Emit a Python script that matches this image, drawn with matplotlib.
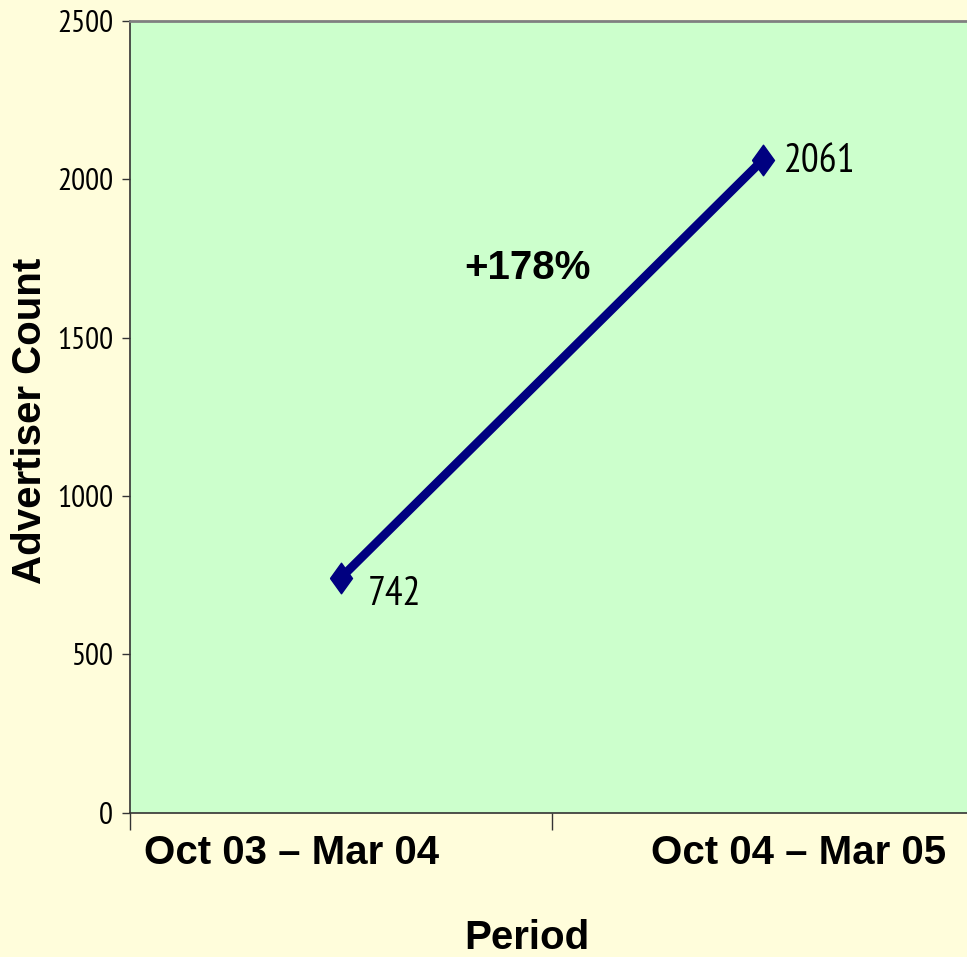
import matplotlib
matplotlib.use("Agg")
import numpy as np
from matplotlib import pyplot as plt

# advertiser counts per period
periods = ["Oct 03 \u2013 Mar 04", "Oct 04 \u2013 Mar 05"]
counts = [742, 2061]
growth_label = "+178%"

y_ticks = [0, 500, 1000, 1500, 2000, 2500]

narrow_font = ["PT Sans Narrow", "Roboto Condensed", "DejaVu Sans"]
bold_font = ["Liberation Sans", "DejaVu Sans"]

plt.rcParams["font.family"] = narrow_font

bg = "#FFFDDB"
plot_bg = "#CCFFCC"
navy = "#000080"

fig = plt.figure(figsize=(9.67, 9.57), dpi=100, facecolor=bg)
ax = fig.add_axes([0.1344, 0.1505, 0.8728, 0.828], facecolor=plot_bg)

x = np.arange(len(counts))
diamond = [(-0.72, 0), (0, 1), (0.72, 0), (0, -1), (-0.72, 0)]
ax.plot(x, counts, color=navy, linewidth=6.3, marker=diamond,
        markersize=22, markerfacecolor=navy, markeredgecolor=navy,
        solid_capstyle="butt", zorder=3)

# value labels next to the points
offsets = [(19, -12), (15, -1)]
for xi, val, off in zip(x, counts, offsets):
    ax.annotate(str(val), (xi, val), xytext=off, textcoords="offset points",
                ha="left", va="center", fontsize=28.5, color="black")

ax.text(0.443, 1719, growth_label, ha="center", va="center", fontsize=29,
        fontweight="bold", family=bold_font)

ax.set_xlim(-0.5, len(counts) - 0.5)
ax.set_ylim(0, 2500)
ax.set_yticks(y_ticks)
ax.set_yticklabels([str(t) for t in y_ticks])
ax.tick_params(axis="y", direction="out", length=6, width=1, pad=6,
               labelsize=22.5, color="#333333")

# category boundaries get the tick marks, labels sit below
ax.set_xticks(np.arange(len(counts)) - 0.5)
ax.set_xticklabels([])
ax.tick_params(axis="x", direction="out", length=12, width=1, color="#333333")

label_x = [-0.116, 1.085]
for lx, name in zip(label_x, periods):
    ax.text(lx, -0.0505, name, transform=ax.get_xaxis_transform(),
            ha="center", va="center", fontsize=29, fontweight="bold",
            family=bold_font, clip_on=False)

for side in ["left", "bottom"]:
    ax.spines[side].set_color("#333333")
    ax.spines[side].set_linewidth(1.2)
ax.spines["top"].set_color("#808080")
ax.spines["top"].set_linewidth(2)
ax.spines["right"].set_visible(False)

fig.text(30 / 967, 1 - 421 / 957, "Advertiser Count", rotation=90,
         ha="center", va="center", fontsize=29, fontweight="bold",
         family=bold_font)
fig.text(527 / 967, 1 - 938 / 957, "Period", ha="center", va="center",
         fontsize=29, fontweight="bold", family=bold_font)

fig.savefig("out.png", dpi=100, facecolor=bg)
